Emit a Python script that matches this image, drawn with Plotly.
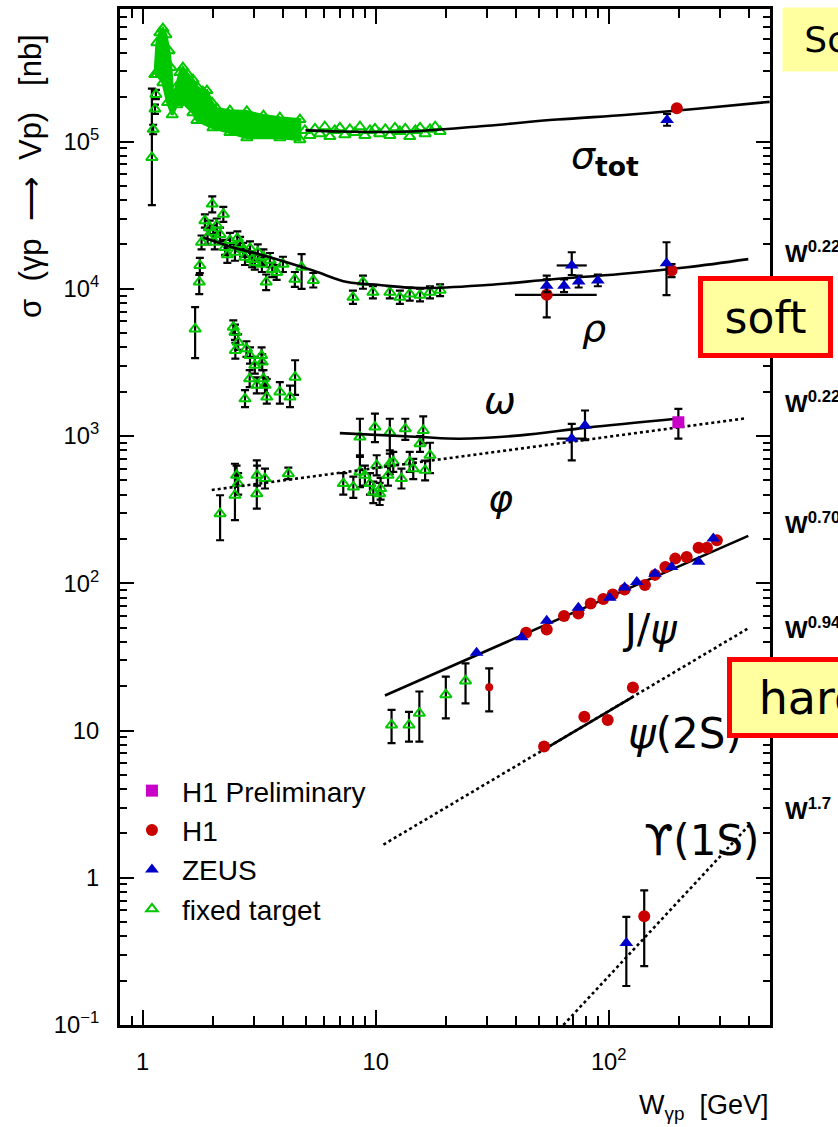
import plotly.graph_objects as go

GREEN = "rgb(0,200,0)"
RED = "rgb(200,0,0)"
BLUE = "rgb(0,0,200)"
MAG = "rgb(200,0,200)"
YEL = "rgb(255,255,160)"

# ---------------- data (W in GeV, sigma in nb) ----------------
# sigma_tot fixed target: dense band (upper / lower envelope of the many points)
tot_band_W_up = [1.13, 1.152, 1.186, 1.222, 1.259, 1.297, 1.323, 1.349, 1.39, 1.446, 1.489, 1.565,
                 1.644, 1.727, 1.815, 1.888, 1.984, 2.084, 2.37, 2.80, 3.30, 3.88, 4.73]
tot_band_up = [2.85e5, 4.69e5, 5.48e5, 5.84e5, 5.31e5, 4.14e5, 3.18e5, 1.99e5, 2.32e5, 2.94e5, 3.18e5, 2.85e5,
               2.63e5, 2.32e5, 2.18e5, 2.22e5, 1.84e5, 1.67e5, 1.62e5, 1.60e5, 1.50e5, 1.45e5, 1.41e5]
tot_band_W_lo = [1.13, 1.152, 1.222, 1.28, 1.34, 1.403, 1.489, 1.644, 1.71, 2.003, 2.37, 2.80, 3.88, 4.73]
tot_band_lo = [2.85e5, 2.85e5, 2.51e5, 1.84e5, 1.52e5, 1.78e5, 1.84e5, 1.57e5, 1.39e5, 1.24e5, 1.15e5, 1.06e5,
               1.06e5, 1.03e5]
# sigma_tot fixed target: separate low-W points with errors
tot_ft_W = [1.096, 1.11, 1.13, 1.14]
tot_ft = [7.8e4, 1.21e5, 1.66e5, 2.09e5]
tot_ft_lo = [3.7e4, 1.12e5, 1.54e5, 1.94e5]
tot_ft_hi = [2.29e5, 1.30e5, 1.78e5, 2.24e5]
# sigma_tot fixed target: sparse points at higher W
tot_ft2_W = [4.97, 5.22, 5.49, 5.76, 6.05, 6.36, 6.68, 7.02, 7.37, 7.75, 8.14, 8.56, 8.99, 9.45, 9.93,
             10.4, 11.0, 11.5, 12.1, 12.7, 13.4, 14.0, 14.8, 15.5, 16.3, 17.1, 18.0, 18.9]
tot_ft2 = [1.19e5, 1.10e5, 1.22e5, 1.13e5, 1.26e5, 1.08e5, 1.19e5, 1.24e5, 1.11e5, 1.21e5, 1.15e5, 1.26e5,
           1.10e5, 1.19e5, 1.22e5, 1.13e5, 1.21e5, 1.10e5, 1.24e5, 1.17e5, 1.22e5, 1.08e5, 1.19e5, 1.24e5,
           1.13e5, 1.21e5, 1.26e5, 1.17e5]

rho_ft_W = [1.75, 1.76, 1.79, 1.85, 1.90, 1.94, 1.99, 2.01, 2.04, 2.08, 2.15, 2.22, 2.26, 2.31, 2.37,
            2.49, 2.55, 2.62, 2.70, 2.75, 2.89, 2.95, 3.03, 3.12, 3.25, 3.30, 3.39, 3.52, 3.60, 3.76,
            4.00, 4.50, 4.81, 5.40, 7.99, 8.82, 9.73, 11.5, 12.7, 14.0, 15.5, 17.1, 18.9]
rho_ft = [11100, 14400, 20700, 29000, 22500, 26100, 37600, 24200, 20700, 27000, 23400, 32100, 19100, 17000,
          21300, 17700, 22000, 20000, 18500, 16400, 18800, 15800, 15100, 17700, 14700, 16500, 11100, 15600,
          13500, 12900, 14700, 11600, 14000, 11400, 8750, 11100, 9470, 9470, 8750, 9220, 9040, 9470, 9770]
rho_ft_lo = [9200, 12800, 18500, 26000, 20000, 23500, 33000, 21500, 18500, 24000, 21000, 28500, 17000, 15000,
             19000, 15500, 19500, 18000, 16500, 14500, 16500, 14000, 13500, 15500, 13000, 14500, 9800, 14000,
             12000, 11500, 13000, 10300, 9970, 10200, 7900, 10000, 8600, 8600, 7900, 8300, 8200, 8600, 8900]
rho_ft_hi = [12400, 16200, 23000, 32000, 25000, 29000, 42400, 27000, 23500, 30000, 26000, 36000, 21500, 19000,
             24000, 20000, 24500, 22500, 20500, 18500, 21000, 17500, 17000, 20000, 16500, 18500, 12500, 17500,
             15000, 14500, 16500, 13000, 17200, 12800, 9700, 12300, 10400, 10400, 9700, 10200, 10000, 10400, 10700]

om_ft_W = [1.68, 2.45, 2.49, 2.50, 2.57, 2.75, 2.79, 2.88, 2.89, 3.03, 3.09, 3.24, 3.26, 3.30, 3.35,
           3.41, 3.88, 4.29, 4.51, 8.56, 9.93, 11.5, 13.4, 15.5, 16.0]
om_ft = [5340, 5480, 5070, 3810, 4340, 1790, 3910, 2450, 3520, 3020, 2210, 3520, 3180, 2450, 2210,
         1840, 1990, 1840, 2510, 984, 1150, 1060, 1120, 887, 1090]
om_ft_lo = [3380, 4900, 4500, 3350, 3850, 1570, 3450, 2150, 3100, 2650, 1950, 3100, 2800, 2150, 1950,
            1660, 1660, 1570, 1900, 740, 910, 800, 940, 780, 890]
om_ft_hi = [7500, 6100, 5700, 4300, 4900, 2050, 4400, 2800, 4000, 3450, 2500, 4000, 3600, 2800, 2500,
            2440, 2320, 2200, 3270, 1310, 1420, 1310, 1310, 1000, 1360]

phi_ft_W = [2.15, 2.49, 2.53, 2.57, 3.09, 3.10, 3.35, 4.22, 7.26, 8.02, 8.56, 8.99, 9.45, 9.77, 10.1,
            10.4, 10.5, 11.3, 11.5, 11.9, 12.9, 14.0, 14.5, 16.3, 17.1]
phi_ft = [297, 396, 541, 475, 406, 541, 514, 555, 475, 451, 570, 541, 475, 417, 632,
          406, 440, 541, 648, 667, 514, 667, 600, 585, 740]
phi_ft_lo = [196, 268, 460, 400, 321, 460, 440, 510, 400, 380, 450, 460, 400, 350, 540,
             340, 370, 460, 550, 570, 440, 570, 510, 500, 560]
phi_ft_hi = [396, 648, 630, 560, 684, 630, 600, 610, 560, 530, 720, 630, 560, 490, 740,
             480, 520, 630, 760, 780, 600, 780, 700, 680, 900]

jpsi_ft_W = [11.7, 13.9, 15.4, 20.0, 24.3]
jpsi_ft = [10.9, 10.9, 13.1, 17.5, 21.7]
jpsi_ft_lo = [8.2, 8.4, 8.4, 12.1, 15.3]
jpsi_ft_hi = [13.8, 13.4, 18.4, 23.2, 28.6]

# H1
h1_tot_W, h1_tot = [196], [1.68e5]
h1_rho_W, h1_rho = [54.2, 186], [9100, 13300]
h1_rho_lo, h1_rho_hi = [6400, 12000], [12300, 14700]
h1_rho_Wlo, h1_rho_Whi = [39.6, 186], [88.8, 186]
h1_jpsi_W = [44.2, 54.2, 64.3, 74.1, 83.7, 94.8, 104, 117, 143, 158, 175, 193, 216, 243, 264, 291]
h1_jpsi = [46.1, 48.6, 60.0, 62.4, 72.9, 78.2, 83.9, 90.8, 97.2, 114, 129, 147, 151, 174, 174, 196]
h1_jpsi_low_W, h1_jpsi_low, h1_jpsi_low_lo, h1_jpsi_low_hi = [30.7], [19.7], [13.5], [26.4]
h1_psi2s_W = [52.8, 78.6, 99, 127]
h1_psi2s = [7.8, 12.4, 11.8, 19.6]
h1_ups_W, h1_ups, h1_ups_lo, h1_ups_hi = [142], [0.548], [0.251], [0.822]
# H1 preliminary
h1p_om_W, h1p_om, h1p_om_lo, h1p_om_hi = [199], [1240], [960], [1530]
# ZEUS
z_tot_W, z_tot, z_tot_lo, z_tot_hi = [178], [1.40e5], [1.28e5], [1.54e5]
z_rho_W = [69.4, 54.2, 64.3, 74.3, 89.8, 177]
z_rho = [14400, 10500, 10500, 11200, 11400, 14900]
z_rho_lo = [12400, 9500, 9500, 10200, 10400, 9040]
z_rho_hi = [17700, 11600, 11600, 12300, 12500, 20700]
z_rho_Wlo = [59.8, 54.2, 64.3, 74.3, 89.8, 177]
z_rho_Whi = [80.5, 54.2, 64.3, 74.3, 89.8, 177]
z_om_W, z_om, z_om_lo, z_om_hi = [79.1], [1180], [936], [1490]
z_phi_W, z_phi, z_phi_lo, z_phi_hi = [69.4], [960], [683], [1210]
z_phi_Wlo, z_phi_Whi = [59.8], [80.5]
z_jpsi_W = [27.1, 42.3, 54.2, 74.1, 101, 117, 132, 158, 186, 243, 281]
z_jpsi = [33.8, 43.0, 55.7, 68.2, 79.8, 93.7, 102, 116, 129, 140, 201]
z_ups_W, z_ups, z_ups_lo, z_ups_hi = [119], [0.361], [0.184], [0.542]

# fit curves
fit_tot_W = [5.0, 7.0, 10.4, 15.5, 30, 60, 120, 240, 490]
fit_tot = [1.19e5, 1.17e5, 1.16e5, 1.18e5, 1.28e5, 1.41e5, 1.52e5, 1.67e5, 1.86e5]
fit_rho_W = [1.82, 2.44, 3.28, 5.38, 7.55, 10.4, 15.5, 30, 57.6, 112, 217, 397]
fit_rho = [22300, 19100, 16900, 13300, 11100, 10600, 10100, 10600, 11600, 12600, 14000, 15900]
fit_om_W = [7.02, 15.5, 23, 41.7, 80.5, 195]
fit_om = [1047, 984, 959, 1010, 1140, 1310]
fit_phi_W = [1.98, 15.5, 68.4, 384]
fit_phi = [430, 667, 910, 1316]
fit_jpsi_W = [10.96, 60, 397]
fit_jpsi = [17.3, 56.4, 210]
fit_psi2s_W = [10.8, 397]
fit_psi2s = [1.68, 49.4]
fit_psi2s_data_W = [52.4, 127.5]
fit_psi2s_data = [7.38, 17.0]
fit_ups_W = [63.9, 404]
fit_ups = [0.1, 2.31]

# axis ranges (log10)
XR = [-0.097, 2.692]
YR = [-1, 5.90]

fig = go.Figure()


def errs(v, lo, hi):
    plus = [h - x for x, h in zip(v, hi)]
    minus = [x - l for x, l in zip(v, lo)]
    return plus, minus


def add_pts(W, s, lo=None, hi=None, color=GREEN, symbol="triangle-up-open", size=10,
            name=None, legend=False, rank=None, wlo=None, whi=None, errcolor="black"):
    ey = None
    if lo is not None:
        p, m = errs(s, lo, hi)
        ey = dict(type="data", symmetric=False, array=p, arrayminus=m,
                  color=errcolor, thickness=2.2, width=4)
    ex = None
    if wlo is not None:
        p, m = errs(W, wlo, whi)
        ex = dict(type="data", symmetric=False, array=p, arrayminus=m,
                  color=errcolor, thickness=2.2, width=0)
    is_open = "open" in symbol
    fig.add_trace(go.Scatter(
        x=W, y=s, mode="markers",
        marker=dict(symbol=symbol, size=size, color=color,
                    line=dict(width=2 if is_open else 0, color=color)),
        error_y=ey, error_x=ex, name=name or "", showlegend=legend,
        legendrank=rank if rank else 1000, hoverinfo="skip"))


def add_line(W, s, dash="solid", spline=False):
    fig.add_trace(go.Scatter(x=W, y=s, mode="lines",
                             line=dict(color="black", width=2.6, dash=dash,
                                       shape="spline" if spline else "linear"),
                             showlegend=False, hoverinfo="skip"))


# dense sigma_tot band
fig.add_trace(go.Scatter(x=tot_band_W_up + tot_band_W_lo[::-1], y=tot_band_up + tot_band_lo[::-1],
                         mode="lines", fill="toself", fillcolor=GREEN,
                         line=dict(color=GREEN, width=3), showlegend=False, hoverinfo="skip"))
add_pts(tot_band_W_up, tot_band_up)
add_pts(tot_band_W_lo, tot_band_lo)
add_pts(tot_ft2_W, tot_ft2)
add_pts(tot_ft_W, tot_ft, tot_ft_lo, tot_ft_hi)
add_pts(rho_ft_W, rho_ft, rho_ft_lo, rho_ft_hi)
add_pts(om_ft_W, om_ft, om_ft_lo, om_ft_hi)
add_pts(phi_ft_W, phi_ft, phi_ft_lo, phi_ft_hi)
add_pts(jpsi_ft_W, jpsi_ft, jpsi_ft_lo, jpsi_ft_hi, name="fixed target", legend=True, rank=4)

# fits
add_line(fit_tot_W, fit_tot, spline=True)
add_line(fit_rho_W, fit_rho, spline=True)
add_line(fit_om_W, fit_om, spline=True)
add_line(fit_phi_W, fit_phi, dash="3px,3px")
add_line(fit_jpsi_W, fit_jpsi)
add_line(fit_psi2s_W, fit_psi2s, dash="3px,3px")
add_line(fit_psi2s_data_W, fit_psi2s_data)
add_line(fit_ups_W, fit_ups, dash="3px,3px")

# HERA
add_pts(h1_tot_W, h1_tot, color=RED, symbol="circle", size=12, name="H1", legend=True, rank=2)
add_pts(h1_rho_W, h1_rho, h1_rho_lo, h1_rho_hi, color=RED, symbol="circle", size=12,
        wlo=h1_rho_Wlo, whi=h1_rho_Whi)
add_pts(h1_jpsi_W, h1_jpsi, color=RED, symbol="circle", size=12)
add_pts(h1_jpsi_low_W, h1_jpsi_low, h1_jpsi_low_lo, h1_jpsi_low_hi, color=RED, symbol="circle", size=8)
add_pts(h1_psi2s_W, h1_psi2s, color=RED, symbol="circle", size=12)
add_pts(h1_ups_W, h1_ups, h1_ups_lo, h1_ups_hi, color=RED, symbol="circle", size=12)
add_pts(z_tot_W, z_tot, z_tot_lo, z_tot_hi, color=BLUE, symbol="triangle-up", size=12,
        name="ZEUS", legend=True, rank=3)
add_pts(z_rho_W, z_rho, z_rho_lo, z_rho_hi, color=BLUE, symbol="triangle-up", size=12,
        wlo=z_rho_Wlo, whi=z_rho_Whi)
add_pts(z_om_W, z_om, z_om_lo, z_om_hi, color=BLUE, symbol="triangle-up", size=12)
add_pts(z_phi_W, z_phi, z_phi_lo, z_phi_hi, color=BLUE, symbol="triangle-up", size=12,
        wlo=z_phi_Wlo, whi=z_phi_Whi)
add_pts(z_jpsi_W, z_jpsi, color=BLUE, symbol="triangle-up", size=12)
add_pts(z_ups_W, z_ups, z_ups_lo, z_ups_hi, color=BLUE, symbol="triangle-up", size=12)
add_pts(h1p_om_W, h1p_om, h1p_om_lo, h1p_om_hi, color=MAG, symbol="square", size=12,
        name="H1 Preliminary", legend=True, rank=1)

base = dict(type="log", dtick=1, exponentformat="power", showgrid=False, zeroline=False,
            mirror="allticks", ticks="inside", tickwidth=2, tickcolor="black",
            showline=True, linewidth=3, linecolor="black",
            tickfont=dict(size=19, color="black"), ticklabelstandoff=14)

fig.update_layout(
    width=838, height=1127,
    margin=dict(l=120, r=68, t=6, b=102),
    paper_bgcolor="white", plot_bgcolor="white",
    font=dict(family="Liberation Sans, Arial", color="black"),
    xaxis=dict(range=XR, ticklen=15,
               minor=dict(ticks="inside", ticklen=9, tickwidth=2, tickcolor="black", showgrid=False),
               **base),
    yaxis=dict(range=YR, ticklen=14,
               minor=dict(ticks="inside", ticklen=7, tickwidth=2, tickcolor="black", showgrid=False),
               **base),
    legend=dict(x=0.003, y=0.255, xanchor="left", yanchor="top", bgcolor="rgba(0,0,0,0)",
                font=dict(size=28, family="Liberation Sans, Arial"), tracegroupgap=0, itemwidth=50),
)


def pan(text, x, y, size, xanchor="center", yanchor="middle", family="DejaVu Sans", **kw):
    d = dict(text=text, x=x, y=y, xref="paper", yref="paper", showarrow=False,
             xanchor=xanchor, yanchor=yanchor,
             font=dict(size=size, family=family, color="black"))
    d.update(kw)
    fig.add_annotation(**d)


# curve labels
pan("<i>σ</i><sub><b>tot</b></sub>", 0.746, 0.854, 38)
pan("<i>ρ</i>", 0.729, 0.686, 38)
pan("<i>ω</i>", 0.585, 0.615, 38)
pan("<i>φ</i>", 0.585, 0.519, 38)
pan("J/<i>ψ</i>", 0.815, 0.390, 40)
pan("<i>ψ</i>(2S)", 0.869, 0.287, 42)
pan("ϒ(1S)", 0.895, 0.182, 42)

# axis titles
pan("σ  (γp  ⟶  Vp)   [nb]", -0.138, 0.836, 31, textangle=-90, family="Liberation Sans, Arial")
pan("W<sub>γp</sub>  [GeV]", 1.0, -0.0805, 27, xanchor="right", family="Liberation Sans, Arial")

# exponent labels
for t, yy in [("0.22", 0.7605), ("0.22", 0.613), ("0.70", 0.494), ("0.94", 0.391), ("1.7", 0.213)]:
    pan("<b>W<sup>" + t + "</sup></b>", 1.020, yy, 24, xanchor="left", family="Liberation Sans, Arial")

# boxes
pan("soft", 0.993, 0.697, 44, width=117, height=64, bgcolor=YEL, bordercolor="red",
    borderwidth=5, borderpad=4)
pan("hard", 0.934, 0.322, 46, xanchor="left", width=150, height=63, bgcolor=YEL,
    bordercolor="red", borderwidth=5, borderpad=4)
pan("Scaling", 1.018, 0.970, 36, xanchor="left", width=173, height=63, bgcolor=YEL, borderpad=0)

fig.write_html("out.html")
